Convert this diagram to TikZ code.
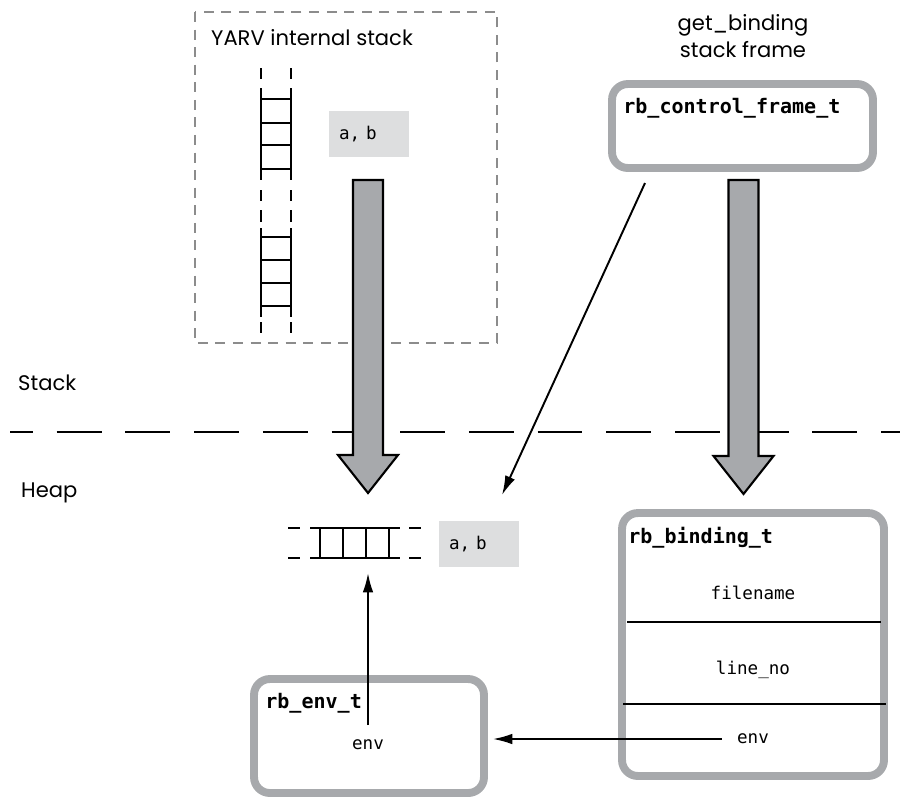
\documentclass[tikz,border=0pt]{standalone}
\usepackage{fontspec}
\setmainfont{Poppins}
\setmonofont{DejaVu Sans Mono}
\usetikzlibrary{arrows.meta}
\definecolor{boxgray}{RGB}{167,169,172}
\definecolor{cellgray}{RGB}{221,222,223}
\definecolor{dashgray}{RGB}{140,140,140}
\tikzset{>={Latex[length=11pt,width=6pt]}}
\tikzset{
  struct/.style={draw=boxgray, line width=4.5pt, rounded corners=9pt, fill=white, inner sep=0pt},
  cell/.style={fill=cellgray, text width=1.2cm, align=left, inner xsep=0.2cm, minimum height=0.92cm,
    font=\ttfamily\fontsize{10}{12}\selectfont},
  structname/.style={anchor=west, inner sep=0pt, font=\ttfamily\bfseries\fontsize{11.4}{13}\selectfont},
  field/.style={font=\ttfamily\fontsize{10}{12}\selectfont},
  caption/.style={font=\fontsize{12}{15}\selectfont},
  rail/.style={line width=1.6pt},
  bigarrow/.style={fill=boxgray, draw=black, line width=1.2pt, line join=miter},
  thinarrow/.style={->, line width=1.1pt}
}
% big hollow arrow pointing down: x, top of shaft, tip
\newcommand{\bigdown}[3]{\draw[bigarrow] (#1-15,#2) -- (#1+15,#2) -- (#1+15,#3-38) -- (#1+30,#3-38)
  -- (#1,#3) -- (#1-30,#3-38) -- (#1-15,#3-38) -- cycle;}

\begin{document}
\begin{tikzpicture}[x=0.02cm, y=-0.02cm]
  \useasboundingbox (0,0) rectangle (901,802);

  % stack / heap border
  \draw[line width=1.2pt, dash pattern=on 25.5pt off 13.6pt, dash phase=12.5pt] (10,432) -- (900,432);
  \node[caption, anchor=west] (stk) at (12,383) {Stack};
  \node[caption, anchor=west] (hp) at (15,493) {Heap};

  % YARV internal stack
  \draw[dashgray, line width=1.2pt, dash pattern=on 5.7pt off 4.3pt] (195,12) rectangle (497,343);
  \node[caption, anchor=west] (yarv) at (205,38) {YARV internal stack};
  \draw[rail, dash pattern=on 6.5pt off 5pt] (261,68) -- (261,90) (291,68) -- (291,90)
    (261,190) -- (261,228) (291,190) -- (291,228) (261,322) -- (261,337) (291,322) -- (291,337);
  \draw[rail] (261,90) -- (261,180) (291,90) -- (291,180) (261,228) -- (261,317) (291,228) -- (291,317);
  \draw[rail] (261,99) -- (291,99) (261,123) -- (291,123) (261,145) -- (291,145) (261,169) -- (291,169)
    (261,237) -- (291,237) (261,260) -- (291,260) (261,283) -- (291,283) (261,306) -- (291,306);
  \node[cell] (ab1) at (369,134) {a, b};
  \bigdown{368}{180}{493}

  % get_binding stack frame
  \node[caption, align=center, font=\fontsize{12}{15.5}\selectfont] (gb) at (743,36) {get\_binding\\stack frame};
  \node[struct, minimum width=5.22cm, minimum height=1.68cm] (cf) at (742.5,126) {};
  \node[structname] (cfname) at (623,108) {rb\_control\_frame\_t};
  \bigdown{743.5}{180}{494}
  \coordinate (cfptr) at (645,183);
  \coordinate (abptr) at (502,495);
  \draw[thinarrow] (cfptr) -- (abptr);

  % heap copy of the stack
  \draw[rail, dash pattern=on 6.8pt off 5pt] (288,528) -- (300,528) (288,558) -- (300,558)
    (409,528) -- (421,528) (409,558) -- (421,558);
  \draw[rail] (310,528) -- (400,528) (310,558) -- (400,558)
    (320,528) -- (320,558) (343,528) -- (343,558) (366,528) -- (366,558) (389,528) -- (389,558);
  \node[cell] (ab2) at (479,544) {a, b};

  % rb_binding_t
  \node[struct, minimum width=5.24cm, minimum height=5.26cm] (bind) at (753,644.5) {};
  \node[structname] (bindname) at (628,538) {rb\_binding\_t};
  \node[field] (fname) at (753,593) {filename};
  \node[field] (lineno) at (753,670) {line\_no};
  \node[field, inner xsep=0.3cm] (benv) at (753,739) {env};
  \draw[line width=1.4pt] (627,622) -- (881,622) (623,704) -- (886,704);

  % rb_env_t
  \node[struct, minimum width=4.6cm, minimum height=2.28cm] (envbox) at (369,736) {};
  \node[structname] (envname) at (265,703) {rb\_env\_t};
  \node[field] (envf) at (368,745) {env};
  \coordinate (envptr) at (368,725);
  \coordinate (hlbot) at (368,573);
  \draw[thinarrow] (envptr) -- (hlbot);
  \draw[thinarrow, shorten >=0.1cm] (benv.west) -- (envbox.east |- benv.west);
\end{tikzpicture}
\end{document}
